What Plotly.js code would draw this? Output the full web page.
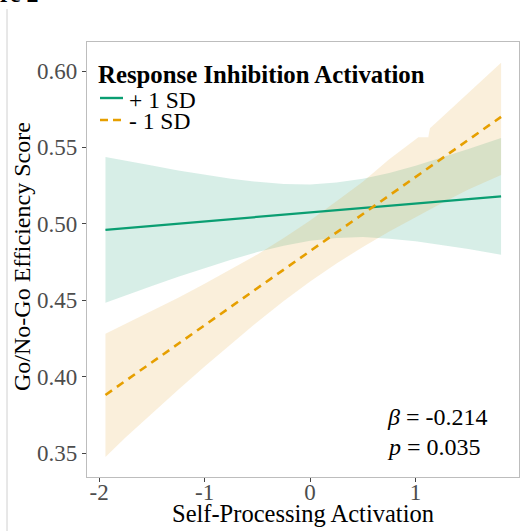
<!DOCTYPE html>
<html>
<head>
<meta charset="utf-8">
<script src="https://cdn.plot.ly/plotly-3.0.1.min.js"></script>
<style>
  html, body { margin: 0; padding: 0; background: #fff; overflow: hidden; }
  #chart { width: 520px; height: 531px; }
</style>
</head>
<body>
<div id="chart"></div>
<script>
// ---- data ----
const fitX = [-1.94, -1.5, -1, -0.5, 0, 0.5, 1, 1.5, 1.81];
const bandX = [-1.94, -1.75, -1.5, -1.25, -1, -0.75, -0.5, -0.25, 0, 0.25, 0.5, 0.75, 1, 1.25, 1.5, 1.81];

// + 1 SD (Response Inhibition Activation)
const plusFit   = [0.4961, 0.4987, 0.5016, 0.5045, 0.5074, 0.5104, 0.5133, 0.5162, 0.5180];
const plusUpper = [0.5438, 0.5412, 0.5381, 0.5349, 0.5321, 0.5295, 0.5275, 0.5261, 0.5258, 0.5270, 0.5295, 0.5333, 0.5380, 0.5432, 0.5489, 0.5562];
const plusLower = [0.4484, 0.4530, 0.4593, 0.4653, 0.4711, 0.4765, 0.4815, 0.4857, 0.4890, 0.4908, 0.4913, 0.4903, 0.4886, 0.4862, 0.4835, 0.4798];

// - 1 SD
const minusFit   = [0.3880, 0.4094, 0.4337, 0.4579, 0.4822, 0.5065, 0.5307, 0.5550, 0.5700];
const minusLower = [0.3474, 0.3602, 0.3759, 0.3914, 0.4067, 0.4215, 0.4358, 0.4495, 0.4622, 0.4740, 0.4849, 0.4950, 0.5045, 0.5137, 0.5224, 0.5320];
const minusUpperX = [-1.94, -1.75, -1.5, -1.25, -1, -0.75, -0.5, -0.25, 0, 0.25, 0.5, 0.75, 1, 1.026, 1.12, 1.136, 1.25, 1.5, 1.81];
const minusUpper  = [0.4280, 0.4345, 0.4429, 0.4516, 0.4607, 0.4701, 0.4800, 0.4907, 0.5022, 0.5147, 0.5275, 0.5422, 0.5550, 0.5566, 0.5566, 0.5625, 0.5697, 0.5857, 0.6054];

const seriesNames = ['+ 1 SD', '- 1 SD'];
const legendTitle = 'Response Inhibition Activation';
const xTitle = 'Self-Processing Activation';
const yTitle = 'Go/No-Go Efficiency Score';

const xTickVals = [-2, -1, 0, 1];
const xTickText = ['-2', '-1', '0', '1'];
const yTickVals = [0.35, 0.40, 0.45, 0.50, 0.55, 0.60];
const yTickText = ['0.35', '0.40', '0.45', '0.50', '0.55', '0.60'];

const statBeta = '-0.214';
const statP = '0.035';

// ---- styling ----
const GREEN = '#0a9e72';
const ORANGE = '#e69f00';
const FONT = 'Liberation Serif';

function band(xs, up, xsLow, low) {
  return {
    x: xs.concat(xsLow.slice().reverse()),
    y: up.concat(low.slice().reverse())
  };
}
const plusBand = band(bandX, plusUpper, bandX, plusLower);
const minusBand = band(minusUpperX, minusUpper, bandX, minusLower);

const traces = [
  { x: plusBand.x, y: plusBand.y, type: 'scatter', mode: 'lines', fill: 'toself',
    fillcolor: 'rgba(10,150,110,0.165)', line: { width: 0, color: 'rgba(0,0,0,0)' },
    hoverinfo: 'skip', showlegend: false },
  { x: minusBand.x, y: minusBand.y, type: 'scatter', mode: 'lines', fill: 'toself',
    fillcolor: 'rgba(225,160,40,0.17)', line: { width: 0, color: 'rgba(0,0,0,0)' },
    hoverinfo: 'skip', showlegend: false },
  { x: fitX, y: plusFit, type: 'scatter', mode: 'lines', name: seriesNames[0],
    line: { color: GREEN, width: 2.2 }, showlegend: false },
  { x: fitX, y: minusFit, type: 'scatter', mode: 'lines', name: seriesNames[1],
    line: { color: ORANGE, width: 2.6, dash: '8px,6px' }, showlegend: false }
];

// pixel helpers for placing legend/annotation pieces in paper space
const L = 87, R = 519, T = 42, B = 477;
const px = v => (v - L) / (R - L);
const py = v => (B - v) / (B - T);

const layout = {
  width: 520, height: 531,
  margin: { l: L, r: 520 - R, t: T, b: 531 - B, pad: 0 },
  paper_bgcolor: '#fff', plot_bgcolor: '#fff',
  showlegend: false,
  font: { family: FONT, size: 23, color: '#000' },
  xaxis: {
    range: [-2.115, 1.98], tickmode: 'array', tickvals: xTickVals, ticktext: xTickText,
    ticks: 'outside', ticklen: 4, tickwidth: 1, tickcolor: '#444',
    tickfont: { family: FONT, size: 23, color: '#4d4d4d' }, ticklabelstandoff: -10,
    showline: true, mirror: true, linecolor: '#bdbdbd', linewidth: 1.2,
    showgrid: false, zeroline: false
  },
  yaxis: {
    range: [0.3343, 0.619], tickmode: 'array', tickvals: yTickVals, ticktext: yTickText,
    ticks: 'outside', ticklen: 4, tickwidth: 1, tickcolor: '#444',
    tickfont: { family: FONT, size: 23, color: '#4d4d4d' },
    showline: true, mirror: true, linecolor: '#bdbdbd', linewidth: 1.2,
    showgrid: false, zeroline: false
  },
  shapes: [
    // legend key samples
    { type: 'line', xref: 'paper', yref: 'paper', x0: px(100), x1: px(123), y0: py(98), y1: py(98),
      line: { color: GREEN, width: 2.4 } },
    { type: 'line', xref: 'paper', yref: 'paper', x0: px(100), x1: px(123), y0: py(120), y1: py(120),
      line: { color: ORANGE, width: 2.6, dash: '8px,5px' } },
    // figure frame line on the left
    { type: 'line', xref: 'paper', yref: 'paper', x0: px(7), x1: px(7), y0: py(531), y1: py(9),
      line: { color: '#d0d0d0', width: 1 } }
  ],
  annotations: [
    // axis titles
    { xref: 'paper', yref: 'paper', x: 0.5, y: py(513), xanchor: 'center', yanchor: 'middle',
      text: xTitle, showarrow: false, font: { family: FONT, size: 24.5, color: '#000' } },
    { xref: 'paper', yref: 'paper', x: px(22), y: py(257), xanchor: 'center', yanchor: 'middle',
      text: yTitle, textangle: -90, showarrow: false, font: { family: FONT, size: 24, color: '#000' } },
    // legend
    { xref: 'paper', yref: 'paper', x: px(96), y: py(74), xanchor: 'left', yanchor: 'middle',
      text: '<b>' + legendTitle + '</b>', showarrow: false, font: { family: FONT, size: 24.8, color: '#000' } },
    { xref: 'paper', yref: 'paper', x: px(127), y: py(100), xanchor: 'left', yanchor: 'middle',
      text: seriesNames[0], showarrow: false, font: { family: FONT, size: 23.5, color: '#000' } },
    { xref: 'paper', yref: 'paper', x: px(127), y: py(121), xanchor: 'left', yanchor: 'middle',
      text: seriesNames[1], showarrow: false, font: { family: FONT, size: 23.5, color: '#000' } },
    // statistics
    { xref: 'paper', yref: 'paper', x: px(385), y: py(417), xanchor: 'left', yanchor: 'middle',
      text: '<i>β</i> = ' + statBeta, showarrow: false, font: { family: FONT, size: 24, color: '#000' } },
    { xref: 'paper', yref: 'paper', x: px(385), y: py(447), xanchor: 'left', yanchor: 'middle',
      text: '<i>p</i> = ' + statP, showarrow: false, font: { family: FONT, size: 24, color: '#000' } },
    // cut-off figure caption at the very top
    { xref: 'paper', yref: 'paper', x: px(41), y: py(9), xanchor: 'right', yanchor: 'bottom',
      text: '<b>Figure 2</b>', showarrow: false, font: { family: FONT, size: 24, color: '#000' } }
  ]
};

Plotly.newPlot('chart', traces, layout, { staticPlot: true, displayModeBar: false });
</script>
</body>
</html>
